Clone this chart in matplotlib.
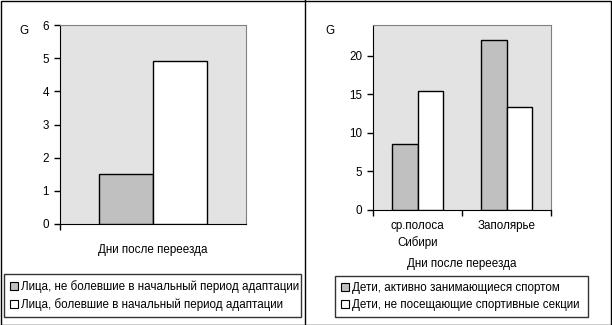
import matplotlib
matplotlib.use('Agg')
import matplotlib.pyplot as plt
from matplotlib.patches import Patch, Rectangle
from matplotlib.lines import Line2D
import numpy as np

plt.rcParams['font.family'] = ['Liberation Sans', 'DejaVu Sans']
plt.rcParams['font.size'] = 8.35

# adaptation after relocation
left_labels = ['Лица, не болевшие в начальный период адаптации',
               'Лица, болевшие в начальный период адаптации']
left_healthy = [1.5]
left_sick = [4.9]

# children, two regions
right_categories = ['ср.полоса\nСибири', 'Заполярье']
right_labels = ['Дети, активно занимающиеся спортом',
                'Дети, не посещающие спортивные секции']
right_sport = [8.5, 22.0]
right_no_sport = [15.5, 13.4]

GRAY = '#c0c0c0'
BG = '#e3e3e3'
W, H = 612, 325


def px_box(x0, y0, x1, y1):
    return [x0 / W, 1 - y1 / H, (x1 - x0) / W, (y1 - y0) / H]


def style_axes(ax):
    ax.set_facecolor(BG)
    for s in ('top', 'right'):
        ax.spines[s].set_color('#808080')
    for s in ('left', 'bottom'):
        ax.spines[s].set_color('black')
    ax.tick_params(axis='y', direction='out', length=4, width=1, pad=4)
    ax.tick_params(axis='x', direction='out', length=4, width=1, pad=3)


def draw_bars(ax, n, a, b, width=0.29):
    idx = np.arange(n)
    ax.bar(idx - width / 2, a, width, color=GRAY, edgecolor='black', linewidth=1, zorder=3)
    ax.bar(idx + width / 2, b, width, color='white', edgecolor='black', linewidth=1, zorder=3)
    ax.set_xlim(-0.5, n - 0.5)


def add_legend(fig, labels, box):
    handles = [Patch(facecolor=GRAY, edgecolor='black', linewidth=0.8, label=labels[0]),
               Patch(facecolor='white', edgecolor='black', linewidth=0.8, label=labels[1])]
    x0, y0, w, h = box
    leg = fig.legend(handles=handles, loc='upper left', mode='expand',
                     bbox_to_anchor=(x0, y0, w, h),
                     bbox_transform=fig.transFigure, frameon=True, fancybox=False,
                     handlelength=0.7, handleheight=0.7, handletextpad=0.3,
                     borderpad=0.5, labelspacing=0.49, borderaxespad=0)
    leg.get_frame().set_edgecolor('black')
    leg.get_frame().set_linewidth(1)
    leg.get_frame().set_boxstyle('square', pad=0)
    return leg


fig = plt.figure(figsize=(6.12, 3.25), dpi=100)

# left panel
ax1 = fig.add_axes(px_box(60, 25, 246, 224))
style_axes(ax1)
draw_bars(ax1, 1, left_healthy, left_sick)
ax1.set_ylim(0, 6)
ax1.set_yticks(range(0, 7))
ax1.set_xticks([-0.5])
ax1.set_xticklabels([''])
fig.text(24 / W, 1 - 31 / H, 'G', ha='center', va='center')
fig.text(153 / W, 1 - 250 / H, 'Дни после переезда', ha='center', va='center')
add_legend(fig, left_labels, px_box(4, 274, 301, 316))

# right panel
ax2 = fig.add_axes(px_box(373, 25, 551, 210))
style_axes(ax2)
draw_bars(ax2, 2, right_sport, right_no_sport)
ax2.set_ylim(0, 24)
ax2.set_yticks(range(0, 21, 5))
ax2.set_xticks([-0.5, 0.5, 1.5])
ax2.set_xticklabels(['', '', ''])
for i, lab in enumerate(right_categories):
    ax2.text(i, -0.055, lab, transform=ax2.get_xaxis_transform(),
             ha='center', va='top', linespacing=1.4)
fig.text(330 / W, 1 - 31 / H, 'G', ha='center', va='center')
fig.text(462 / W, 1 - 264 / H, 'Дни после переезда', ha='center', va='center')
add_legend(fig, right_labels, px_box(335, 276, 588, 315))

# outer frame and panel divider
fig.add_artist(Rectangle((0.5 / W, 0.5 / H), 1 - 1.5 / W, 1 - 1.5 / H,
                         transform=fig.transFigure, fill=False,
                         edgecolor='black', linewidth=1))
fig.add_artist(Line2D([305 / W, 305 / W], [0, 1], transform=fig.transFigure,
                      color='black', linewidth=1))

fig.savefig('out.png', dpi=100)
